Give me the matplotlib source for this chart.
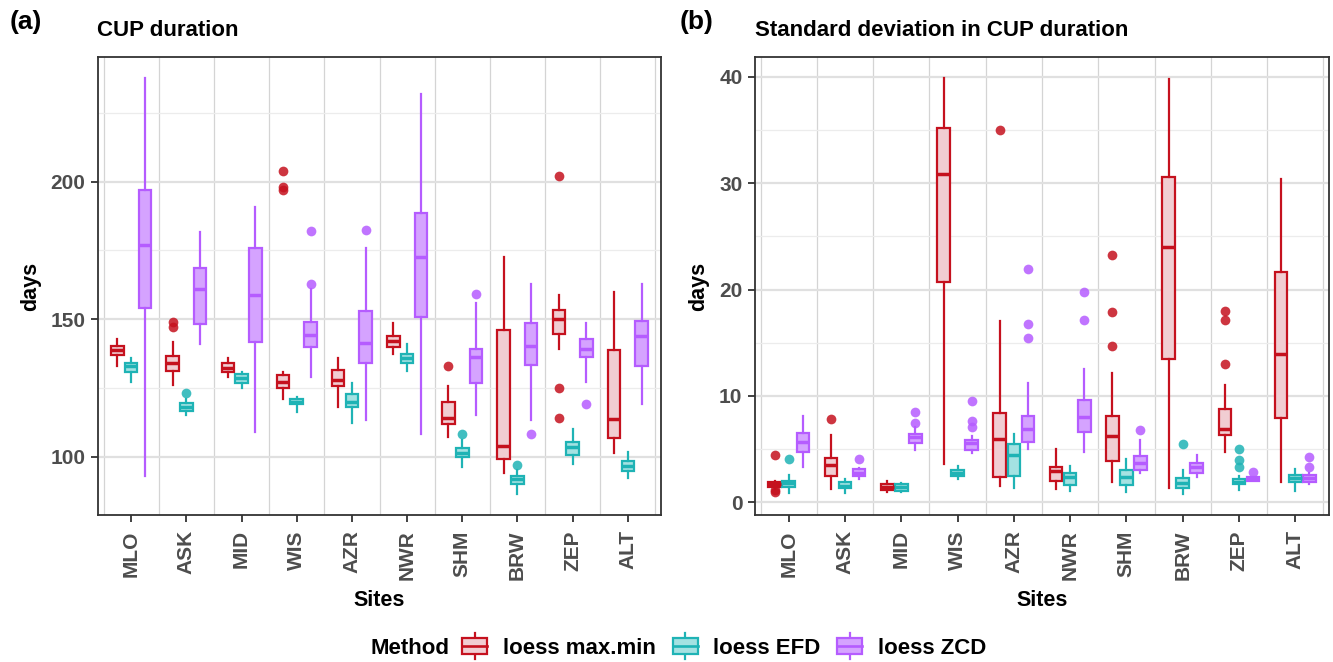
import matplotlib
matplotlib.use("Agg")
import matplotlib.pyplot as plt
from matplotlib.patches import Rectangle
from matplotlib.lines import Line2D
from matplotlib.legend_handler import HandlerBase
from matplotlib.ticker import MultipleLocator

plt.rcParams['font.family'] = ['Liberation Sans', 'DejaVu Sans']
plt.rcParams['font.weight'] = 'bold'

sites = ["MLO", "ASK", "MID", "WIS", "AZR", "NWR", "SHM", "BRW", "ZEP", "ALT"]
methods = ["loess max.min", "loess EFD", "loess ZCD"]

# ---------- Panel (a): CUP duration (days) ----------
dur_maxmin = dict(
    lo=[133.1, 126.1, 129.1, 121.0, 118.2, 137.2, 107.3, 94.2, 139.0, 101.2],
    q1=[136.8, 131.3, 130.8, 124.8, 125.8, 140.0, 111.9, 99.2, 144.6, 106.7],
    med=[138.8, 134.0, 132.3, 127.0, 128.0, 142.2, 114.0, 104.0, 150.2, 113.6],
    q3=[140.2, 136.7, 134.2, 129.7, 131.5, 143.9, 120.0, 146.1, 153.3, 138.8],
    hi=[142.8, 141.8, 135.8, 130.8, 135.8, 148.7, 125.8, 172.7, 158.8, 159.8],
    out=[[], [149.1, 147.0], [], [204.0, 198.2, 197.0], [], [], [133.0], [],
         [201.9, 125.1, 113.9], []],
)
dur_efd = dict(
    lo=[127.0, 115.2, 125.1, 116.1, 112.1, 131.2, 96.1, 86.3, 97.3, 92.1],
    q1=[130.8, 116.7, 126.9, 119.0, 117.9, 133.9, 99.8, 90.0, 100.6, 94.9],
    med=[132.8, 118.0, 128.5, 120.0, 120.0, 135.8, 101.5, 91.8, 103.4, 96.6],
    q3=[134.2, 119.4, 130.2, 121.0, 122.7, 137.2, 103.0, 93.0, 105.5, 98.5],
    hi=[135.8, 120.8, 130.8, 121.8, 126.7, 140.8, 106.1, 95.2, 109.9, 101.8],
    out=[[], [123.0], [], [], [], [], [108.1], [97.1], [], []],
)
dur_zcd = dict(
    lo=[93.1, 141.1, 109.1, 129.1, 113.3, 108.1, 115.2, 113.3, 127.0, 119.0],
    q1=[153.9, 148.2, 141.8, 140.0, 133.9, 150.9, 126.9, 133.3, 136.1, 133.0],
    med=[177.0, 161.1, 158.8, 144.1, 141.2, 172.5, 136.1, 140.2, 139.0, 144.0],
    q3=[197.0, 168.5, 176.0, 149.0, 153.0, 188.7, 139.0, 148.7, 142.7, 149.3],
    hi=[237.8, 181.7, 190.8, 160.8, 175.8, 231.8, 155.8, 162.7, 148.7, 162.7],
    out=[[], [], [], [182.0, 162.9], [182.4], [], [159.0], [108.1], [119.0], []],
)

# ---------- Panel (b): Standard deviation in CUP duration (days) ----------
sd_maxmin = dict(
    lo=[1.3, 1.3, 1.0, 3.57, 1.57, 1.22, 1.94, 1.32, 4.76, 1.94],
    q1=[1.47, 2.48, 1.16, 20.66, 2.41, 2.04, 3.92, 13.5, 6.33, 7.9],
    med=[1.7, 3.5, 1.47, 30.9, 5.96, 2.95, 6.24, 23.95, 6.87, 13.95],
    q3=[1.88, 4.2, 1.72, 35.2, 8.37, 3.35, 8.15, 30.6, 8.78, 21.6],
    hi=[2.04, 6.33, 2.04, 39.9, 17.05, 4.98, 12.2, 39.8, 11.03, 30.4],
    out=[[4.45, 1.15, 1.0], [7.84], [], [], [35.0], [], [23.2, 17.9, 14.7], [],
         [18.0, 17.15, 12.98], []],
)
sd_efd = dict(
    lo=[0.9, 0.85, 0.94, 2.16, 1.32, 1.07, 1.0, 0.78, 1.16, 1.1],
    q1=[1.41, 1.32, 1.07, 2.48, 2.48, 1.63, 1.63, 1.38, 1.69, 1.88],
    med=[1.79, 1.57, 1.41, 2.8, 4.45, 2.35, 2.35, 1.79, 1.94, 2.26],
    q3=[2.04, 1.88, 1.7, 3.04, 5.5, 2.79, 3.04, 2.32, 2.16, 2.57],
    hi=[2.57, 2.16, 1.79, 3.45, 6.4, 3.45, 4.04, 3.04, 2.48, 3.13],
    out=[[4.08], [], [], [], [], [], [], [5.45], [4.98, 3.98, 3.35], []],
)
sd_zcd = dict(
    lo=[3.35, 2.16, 4.9, 4.6, 5.0, 4.7, 2.73, 2.35, 2.04, 1.72],
    q1=[4.7, 2.48, 5.55, 4.92, 5.64, 6.58, 3.04, 2.79, 2.04, 1.91],
    med=[5.7, 2.8, 6.1, 5.55, 6.9, 8.06, 3.73, 3.35, 2.22, 2.26],
    q3=[6.5, 3.13, 6.4, 5.86, 8.15, 9.62, 4.36, 3.73, 2.41, 2.54],
    hi=[8.1, 3.2, 7.1, 6.27, 11.2, 12.54, 5.86, 4.45, 2.41, 2.73],
    out=[[], [4.04], [8.5, 7.5], [9.5, 7.65, 7.1], [21.9, 16.8, 15.4],
         [19.75, 17.15], [6.8], [], [2.82], [4.3, 3.35]],
)

edge_colors = ["#C5111E", "#1FB3B5", "#B55CFF"]
fill_colors = ["#F1CDD2", "#A4E2E2", "#D5A3FF"]
offsets = [-0.25, 0.0, 0.25]
box_w = 0.225

GRID_MAJOR = "#E0E0E0"
GRID_MINOR = "#ECECEC"
VLINE = "#D4D4D4"
SPINE = "#333333"
TICKCOL = "#4D4D4D"

fig = plt.figure(figsize=(13.33, 6.62), dpi=100)
W, H = 1333, 662


def ax_rect(l, r, t, b):
    return [l / W, 1 - b / H, (r - l) / W, (b - t) / H]


axA = fig.add_axes(ax_rect(98, 661, 57, 515))
axB = fig.add_axes(ax_rect(755, 1329, 57, 515))


def draw_panel(ax, series_list, ylim, major, minor):
    ax.set_xlim(0.4, 10.6)
    ax.set_ylim(*ylim)
    ax.yaxis.set_major_locator(MultipleLocator(major))
    ax.yaxis.set_minor_locator(MultipleLocator(minor))
    ax.grid(which='major', axis='y', color=GRID_MAJOR, lw=1.6, zorder=0)
    ax.grid(which='minor', axis='y', color=GRID_MINOR, lw=0.9, zorder=0)
    ax.set_axisbelow(True)
    for k in range(len(sites) + 1):
        ax.axvline(k + 0.5, color=VLINE, lw=0.9, zorder=0.5)
    for m, s in enumerate(series_list):
        stats = []
        for i in range(len(sites)):
            stats.append(dict(whislo=s['lo'][i], q1=s['q1'][i], med=s['med'][i],
                              q3=s['q3'][i], whishi=s['hi'][i], fliers=s['out'][i]))
        pos = [i + 1 + offsets[m] for i in range(len(sites))]
        ec = edge_colors[m]
        ax.bxp(stats, positions=pos, widths=box_w, patch_artist=True,
               showcaps=False, manage_ticks=False,
               boxprops=dict(facecolor=fill_colors[m], edgecolor=ec, linewidth=1.6),
               medianprops=dict(color=ec, linewidth=2.5, solid_capstyle='butt'),
               whiskerprops=dict(color=ec, linewidth=1.6),
               flierprops=dict(marker='o', markerfacecolor=ec, markeredgecolor='none',
                               markersize=7, alpha=0.85))
    ax.set_xticks(range(1, len(sites) + 1))
    ax.set_xticklabels(sites, rotation=90, ha='center', va='top')
    for sp in ax.spines.values():
        sp.set_color(SPINE)
        sp.set_linewidth(1.3)
    ax.tick_params(axis='both', which='major', length=5, width=1.3, color=SPINE,
                   labelcolor=TICKCOL, labelsize=15)
    ax.tick_params(axis='y', which='minor', length=0)
    ax.tick_params(axis='y', pad=4)
    ax.tick_params(axis='x', pad=6)
    for lab in ax.get_xticklabels() + ax.get_yticklabels():
        lab.set_fontweight('bold')
    ax.set_xlabel("Sites", fontsize=15.5, fontweight='bold', labelpad=7)
    ax.set_ylabel("days", fontsize=15.5, fontweight='bold', labelpad=7)


draw_panel(axA, [dur_maxmin, dur_efd, dur_zcd], (78.8, 245.3), 50, 25)
draw_panel(axB, [sd_maxmin, sd_efd, sd_zcd], (-1.19, 41.85), 10, 5)

fig.text(10 / W, 1 - 22 / H, "(a)", fontsize=19, fontweight='bold', va='center', ha='left')
fig.text(97 / W, 1 - 30 / H, "CUP duration", fontsize=16, fontweight='bold',
         va='center', ha='left')
fig.text(680 / W, 1 - 22 / H, "(b)", fontsize=19, fontweight='bold', va='center', ha='left')
fig.text(755 / W, 1 - 30 / H, "Standard deviation in CUP duration", fontsize=16,
         fontweight='bold', va='center', ha='left')


class BoxHandler(HandlerBase):
    def __init__(self, ec, fc):
        super().__init__()
        self.ec, self.fc = ec, fc

    def create_artists(self, legend, orig_handle, xdescent, ydescent, width, height,
                       fontsize, trans):
        cx = -xdescent + width / 2
        cy = -ydescent + height / 2
        bw = width * 0.9
        bh = height
        wl = Line2D([cx, cx], [cy - bh * 0.85, cy + bh * 0.85], color=self.ec, lw=1.6,
                    transform=trans)
        r = Rectangle((cx - bw / 2, cy - bh / 2), bw, bh, facecolor=self.fc,
                      edgecolor=self.ec, lw=1.6, transform=trans)
        ml = Line2D([cx - bw / 2, cx + bw / 2], [cy, cy], color=self.ec, lw=1.9,
                    transform=trans)
        return [wl, r, ml]


handles = [Rectangle((0, 0), 1, 1) for _ in methods]
hmap = {h: BoxHandler(edge_colors[i], fill_colors[i]) for i, h in enumerate(handles)}
fig.text(371 / W, 1 - 648 / H, "Method", fontsize=16, fontweight='bold', va='center',
         ha='left')
leg = fig.legend(handles, methods, handler_map=hmap, ncol=3, frameon=False,
                 loc='center left', bbox_to_anchor=(461 / W, 1 - 648 / H),
                 prop=dict(size=16, weight='bold'), handlelength=1.25,
                 handleheight=0.7, handletextpad=0.63, columnspacing=0.7,
                 borderpad=0.0, borderaxespad=0.0)

fig.savefig("out.png", dpi=100)
